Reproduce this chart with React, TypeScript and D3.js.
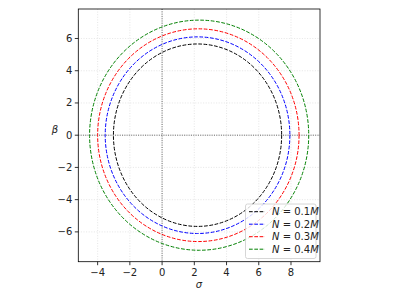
import React from 'react';
import * as d3 from 'd3';

// shadow contours: centre on sigma axis, half-width, half-height
const labels = ['0.1', '0.2', '0.3', '0.4'];
const colors = ['black', 'blue', 'red', 'green'];
const centers = [2.2, 2.2, 2.25, 2.3];
const halfWidths = [5.22, 5.73, 6.25, 6.8];
const halfHeights = [5.66, 6.1, 6.6, 7.14];

const xTicks = [-4, -2, 0, 2, 4, 6, 8];
const yTicks = [-6, -4, -2, 0, 2, 4, 6];

export default function App() {
  const width = 399;
  const height = 299;
  const left = 78.3, right = 320, top = 9, bottom = 261.7;

  const x = d3.scaleLinear().domain([-5.2, 9.8]).range([left, right]);
  const y = d3.scaleLinear().domain([-7.85, 7.83]).range([bottom, top]);

  const font = 'DejaVu Sans, sans-serif';
  const fmt = (t: number) => (t < 0 ? '\u2212' + -t : String(t));

  return (
    <div style={{ position: 'fixed', left: 0, top: 0, width, height, overflow: 'hidden', background: 'white' }}>
      <svg width={width} height={height} style={{ display: 'block' }}>
        <defs>
          <clipPath id="plot">
            <rect x={left} y={top} width={right - left} height={bottom - top} />
          </clipPath>
        </defs>

        {/* grid */}
        <g stroke="#b0b0b0" strokeWidth={0.6} strokeDasharray="1,1.6" opacity={0.5}>
          {xTicks.map(t => (
            <line key={'gx' + t} x1={x(t)} x2={x(t)} y1={top} y2={bottom} />
          ))}
          {yTicks.map(t => (
            <line key={'gy' + t} x1={left} x2={right} y1={y(t)} y2={y(t)} />
          ))}
        </g>

        {/* zero lines */}
        <g stroke="#444" strokeWidth={0.8} strokeDasharray="1,1.3" clipPath="url(#plot)">
          <line x1={x(0)} x2={x(0)} y1={top} y2={bottom} />
          <line x1={left} x2={right} y1={y(0)} y2={y(0)} />
        </g>

        {/* contours */}
        <g clipPath="url(#plot)" fill="none" strokeWidth={1} strokeDasharray="3.7,1.6">
          {labels.map((l, i) => (
            <ellipse
              key={l}
              cx={x(centers[i])}
              cy={y(0)}
              rx={x(centers[i] + halfWidths[i]) - x(centers[i])}
              ry={y(0) - y(halfHeights[i])}
              stroke={colors[i]}
            />
          ))}
        </g>

        {/* axes frame */}
        <rect x={left} y={top} width={right - left} height={bottom - top} fill="none" stroke="black" strokeWidth={0.8} />

        {/* ticks */}
        <g fontFamily={font} fontSize={10} fill="#222">
          {xTicks.map(t => (
            <g key={'tx' + t}>
              <line x1={x(t)} x2={x(t)} y1={bottom} y2={bottom + 3.5} stroke="black" strokeWidth={0.8} />
              <text x={x(t)} y={bottom + 14} textAnchor="middle">{fmt(t)}</text>
            </g>
          ))}
          {yTicks.map(t => (
            <g key={'ty' + t}>
              <line x1={left - 3.5} x2={left} y1={y(t)} y2={y(t)} stroke="black" strokeWidth={0.8} />
              <text x={left - 6} y={y(t) + 3.5} textAnchor="end">{fmt(t)}</text>
            </g>
          ))}
        </g>
        <text x={199} y={288} textAnchor="middle" fontStyle="italic" fontFamily={font} fontSize={10} fill="#222">σ</text>
        <text x={55} y={133} textAnchor="middle" fontStyle="italic" fontFamily={font} fontSize={10} fill="#222">β</text>

        {/* legend */}
        <g fontFamily={font} fontSize={10}>
          <rect x={245.5} y={204} width={70.5} height={54.5} rx={2} fill="white" fillOpacity={0.8} stroke="#cccccc" strokeWidth={0.8} />
          {labels.map((l, i) => {
            const ly = 211.7 + i * 12.5;
            return (
              <g key={'lg' + l}>
                <line x1={249} x2={265} y1={ly} y2={ly} stroke={colors[i]} strokeWidth={1} strokeDasharray="3.7,1.6" />
                <text x={272} y={ly + 3.5} fill="#222">
                  <tspan fontStyle="italic">N</tspan>
                  <tspan> = {l}</tspan>
                  <tspan fontStyle="italic">M</tspan>
                </text>
              </g>
            );
          })}
        </g>
      </svg>
    </div>
  );
}
